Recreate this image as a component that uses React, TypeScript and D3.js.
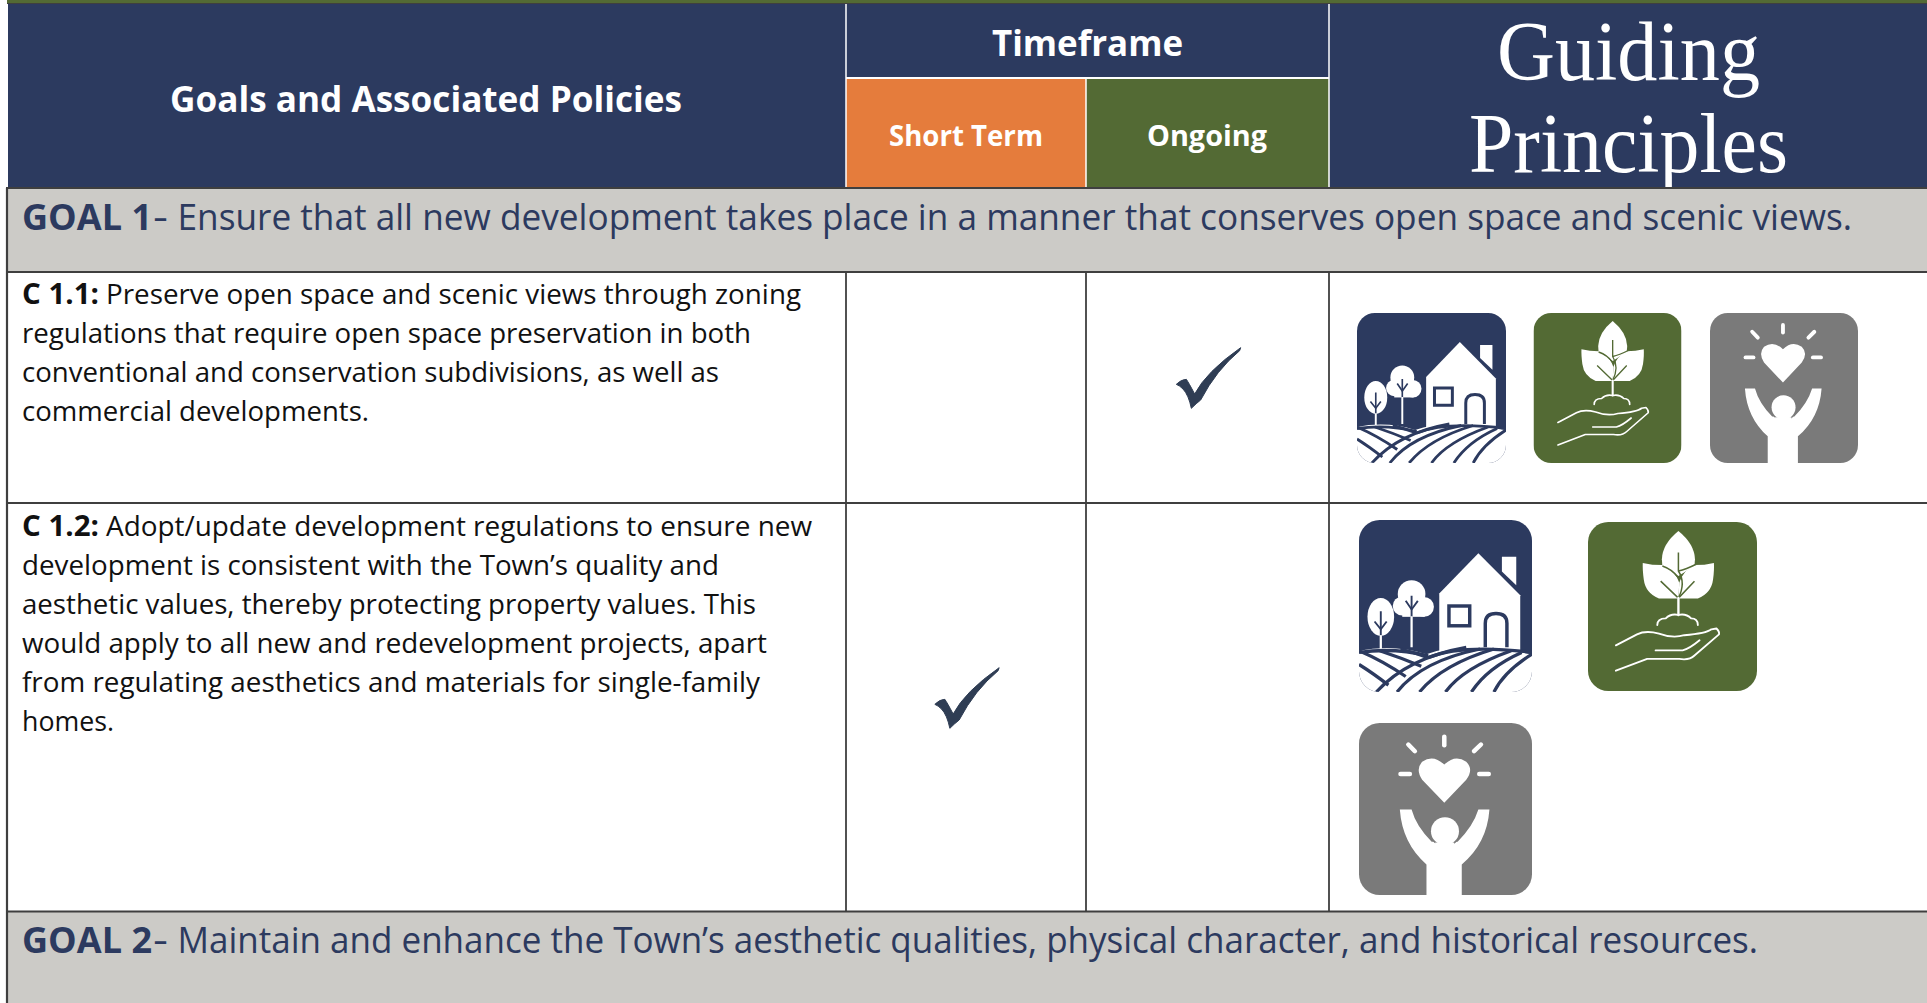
import React from "react";
import * as d3 from "d3";

const NAVY = "#2c3a5f", ORANGE = "#e57c3c", GREEN = "#536a34", BAND = "#cccbc7", RULE = "#3f3f3f", GREY = "#7a7a7a", CHECK = "#2f3d54";
const SANS = "'Open Sans', 'Noto Sans', sans-serif";

const frequency = ["Short Term", "Ongoing"];
const goalOneBold = "GOAL 1";
const goalOneText = "Ensure that all new development takes place in a manner that conserves open space and scenic views.";
const goalTwoBold = "GOAL 2";
const goalTwoText = "Maintain and enhance the Town\u2019s aesthetic qualities, physical character, and historical resources.";
const policyOneId = "C 1.1:";
const policyOneFirst = "Preserve open space and scenic views through zoning";
const policyOneLines = [
  "regulations that require open space preservation in both",
  "conventional and conservation subdivisions, as well as",
  "commercial developments.",
];
const policyOneEnds = [801, 751, 719, 369];
const policyTwoId = "C 1.2:";
const policyTwoFirst = "Adopt/update development regulations to ensure new";
const policyTwoLines = [
  "development is consistent with the Town\u2019s quality and",
  "aesthetic values, thereby protecting property values. This",
  "would apply to all new and redevelopment projects, apart",
  "from regulating aesthetics and materials for single-family",
  "homes.",
];
const policyTwoEnds = [812, 719, 756, 767, 760, 114];
const colEdges = [7, 846, 1086, 1329, 1927];
const rowEdges = [188, 272, 503, 911.5, 1003];

const checkX = d3.scaleOrdinal<string, number>().domain(frequency).range([967, 1208.5]);

function Line(p: { x: number; y: number; end?: number; weight?: number; text: string; size: number; fill: string }) {
  return (
    <text x={p.x} y={p.y} fontFamily={SANS} fontSize={p.size} fill={p.fill} fontWeight={p.weight ?? 400}
      textLength={p.end ? p.end - p.x : undefined} lengthAdjust="spacingAndGlyphs">
      {p.text}
    </text>
  );
}

function Head(p: { x0: number; x1: number; y: number; text: string; size: number; serif?: boolean }) {
  return (
    <text x={p.x0} y={p.y} textLength={p.x1 - p.x0} lengthAdjust="spacingAndGlyphs" fill="#fff"
      fontSize={p.size} fontWeight={p.serif ? 400 : 700} fontFamily={p.serif ? "'Liberation Serif', serif" : SANS}>
      {p.text}
    </text>
  );
}

function Check({ cx, cy }: { cx: number; cy: number }) {
  return (
    <path fill={CHECK} stroke={CHECK} strokeWidth={3} strokeLinejoin="round" transform={`translate(${cx},${cy}) scale(${1 / 3}) translate(-201.5,-174)`}
      d="M105,193 Q120,178 135,178 Q142,188 160,222 Q195,155 298,83 L295,92 Q225,150 178,240 Q165,250 150,265 Q142,225 125,207 Q115,197 105,193 Z" />
  );
}

type Box = { x: number; y: number; w: number; h: number; id: string };

function HouseIcon({ x, y, w, h, id }: Box) {
  return (
    <svg x={x} y={y} width={w} height={h} viewBox="0 0 100 100" preserveAspectRatio="none">
      <defs><clipPath id={id}><rect width={100} height={100} rx={12} /></clipPath></defs>
      <g clipPath={`url(#${id})`}>
        <rect width={100} height={100} fill={NAVY} />
        <path fill="#fff" d="M46.4,42.7 L69,19.4 L93.2,43.7 L93.2,76 L46.4,78 Z" />
        <path fill="#fff" d="M82.6,21.4 L90.9,21.4 L90.9,37.9 L82.6,30 Z" />
        <rect x={52} y={50} width={12} height={11.5} fill="#fff" stroke={NAVY} strokeWidth={2} />
        <path fill="#fff" stroke={NAVY} strokeWidth={2} d="M73,74 L73,60 Q73,54.4 79.2,54.4 Q85.5,54.4 85.5,60 L85.5,74" />
        <ellipse cx={12.6} cy={56.3} rx={7.7} ry={11} fill="#fff" />
        <circle cx={30.4} cy={43} r={8} fill="#fff" />
        <circle cx={25} cy={50} r={5.5} fill="#fff" />
        <circle cx={37.5} cy={50.5} r={5.8} fill="#fff" />
        <rect x={25} y={44} width={13} height={12.3} fill="#fff" />
        <g fill="none" stroke={NAVY} strokeWidth={1.1}>
          <path d="M12.6,53 L12.6,67" /><path d="M9,59 L12.6,63.5 L16,59" />
          <path d="M30.4,44 L30.4,57" /><path d="M27,47 L30.4,52 L34,47" />
        </g>
        <path stroke="#fff" strokeWidth={1.3} d="M12.6,67 L12.6,76 M30.4,56 L30.4,74" />
        <path fill="#fff" d="M0,76 Q20,72 39,78 Q60,70 100,78 L100,100 L0,100 Z" />
        <g fill="none" stroke={NAVY} strokeWidth={1.9}>
          <path d="M0,77 Q20,74 40,79" />
          <path d="M0,84 Q8,89 17,96" /><path d="M0,76 Q14,82 27,91" /><path d="M12,76 Q24,80 36,85" /><path d="M24,75 Q32,77 40,80" />
          <path d="M10,100 Q28,80 62,74" /><path d="M22,100 Q36,82 70,75" /><path d="M35,100 Q48,84 78,75" />
          <path d="M50,100 Q60,86 88,76" /><path d="M65,100 Q74,86 94,77" /><path d="M78,100 Q84,88 100,78" />
          <path d="M40,80 Q60,72 100,77" />
        </g>
      </g>
    </svg>
  );
}

function PlantIcon({ x, y, w, h, id }: Box) {
  return (
    <svg x={x} y={y} width={w} height={h} viewBox="0 0 100 100" preserveAspectRatio="none">
      <defs><clipPath id={id}><rect width={100} height={100} rx={12} /></clipPath></defs>
      <g clipPath={`url(#${id})`}>
        <rect width={100} height={100} fill={GREEN} />
        <path fill="#fff" d="M53.5,5.3 Q44,13 43.7,22 L44,26 L53.5,32 L63,26 L63.3,22 Q63,13 53.5,5.3 Z" />
        <path fill="#fff" d="M32.4,24.2 Q38,25.5 44,25.5 Q52,29 54,36 L53.5,45.3 L42,45.3 Q34,42 33,34 Q32.2,28 32.4,24.2 Z" />
        <path fill="#fff" d="M74.5,24.2 Q69,25.5 63,25.5 Q56,29 54,36 L53.5,45.3 L65,45.3 Q73,42 74,34 Q74.8,28 74.5,24.2 Z" />
        <g fill="none" stroke={GREEN} strokeWidth={0.9}>
          <path d="M53.5,18 L53.5,29 Q58,36 53.5,45" />
          <path d="M43,35 L53.5,45 L63,35" />
          <path d="M53.5,29 Q58,28 64,25" />
          <path d="M44,26 Q50,28 53.5,33" />
        </g>
        <g fill="none" stroke="#fff" strokeWidth={1.1} strokeLinecap="round" strokeLinejoin="round">
          <path d="M53.5,45 L53.5,55" strokeWidth={1.4} />
          <path d="M41,61 Q41,57 46,57 Q49,54 53.5,55 Q58,54 61,57 Q65,57 65,61" />
          <path d="M16.5,73 L29,66.5 Q34,64 42,66 Q50,69 57,67 Q70,66 73,63.5 L76,63 Q78,65 77.5,66.5 L63,79 Q60,82 54,81 L35,81 L16.5,88" />
          <path d="M40,76 L56,76 Q60,75 66,70" />
        </g>
      </g>
    </svg>
  );
}

function HeartIcon({ x, y, w, h, id }: Box) {
  return (
    <svg x={x} y={y} width={w} height={h} viewBox="0 0 100 100" preserveAspectRatio="none">
      <defs><clipPath id={id}><rect width={100} height={100} rx={12} /></clipPath></defs>
      <g clipPath={`url(#${id})`}>
        <rect width={100} height={100} fill={GREY} />
        <g stroke="#fff" strokeWidth={2.6} strokeLinecap="round">
          <path d="M49.3,8 L49.3,13" /><path d="M28.5,12.5 L32.3,16.4" /><path d="M70.5,12.5 L66.5,16.4" />
          <path d="M24,29.6 L29.4,29.6" /><path d="M69.5,29.6 L75,29.6" />
        </g>
        <path fill="#fff" d="M49.3,46.4 L36.5,33 Q32.5,27 36.5,22.5 Q43,18 49.3,24.2 Q55.5,18 62,22.5 Q66.5,27 62,33 Z" />
        <path fill="#fff" d="M23.6,50.3 L30.4,50.3 Q33,60 42,69 L57,69 Q66,60 69,50.3 L75.4,50.3 Q74,70 59.4,82.2 L59.4,100 L39,100 L39,82.2 Q25,70 23.6,50.3 Z" />
        <circle cx={49.7} cy={62.9} r={9} fill={GREY} />
        <circle cx={49.7} cy={62.9} r={8.1} fill="#fff" />
        <rect x={44} y={69.5} width={11} height={3} fill="#fff" />
      </g>
    </svg>
  );
}

export default function App() {
  const [c0, c1, c2, c3, c4] = colEdges;
  const [r0, r1, r2, r3, r4] = rowEdges;
  return (
    <svg width={1927} height={1003} viewBox="0 0 1927 1003" style={{ position: "fixed", left: 0, top: 0, background: "#fff" }}>
      <rect x={c0} y={0} width={c4 - c0} height={3} fill={GREEN} />
      <rect x={c0} y={3} width={c4 - c0} height={1} fill={RULE} />
      <rect x={c0 + 1} y={4} width={c4 - c0} height={r0 - 4} fill={NAVY} />
      <rect x={c1} y={78} width={c3 - c1} height={r0 - 78} fill={ORANGE} />
      <rect x={c2} y={78} width={c3 - c2} height={r0 - 78} fill={GREEN} />
      <g stroke="#fff" strokeWidth={1.5}>
        <line x1={c1} x2={c1} y1={4} y2={r0} />
        <line x1={c3} x2={c3} y1={4} y2={r0} />
        <line x1={c2} x2={c2} y1={78} y2={r0} />
      </g>
      <line x1={c1} x2={c3} y1={78} y2={78} stroke="#fff" strokeWidth={2} />

      <Head x0={170} x1={682} y={112} text="Goals and Associated Policies" size={35} />
      <Head x0={992} x1={1183} y={56} text="Timeframe" size={35} />
      <Head x0={889} x1={1043} y={146} text={frequency[0]} size={28} />
      <Head x0={1147} x1={1267} y={146} text={frequency[1]} size={28} />
      <Head x0={1497} x1={1760} y={80} text="Guiding" size={84} serif />
      <Head x0={1469} x1={1788} y={172} text="Principles" size={84} serif />

      <rect x={c0} y={r0} width={c4 - c0} height={r1 - r0} fill={BAND} />
      <rect x={c0} y={r3} width={c4 - c0} height={r4 - r3} fill={BAND} />

      <g stroke={RULE}>
        {rowEdges.slice(0, 4).map((r) => <line key={r} x1={c0 - 1} x2={c4} y1={r} y2={r} strokeWidth={2.2} />)}
        <line x1={c0} x2={c0} y1={r0} y2={r4} strokeWidth={2.2} />
        {[c1, c2, c3].map((c) => <line key={c} x1={c} x2={c} y1={r1} y2={r3} strokeWidth={1.8} />)}
      </g>

      <Line x={22} y={230} end={152} weight={700} text={goalOneBold} size={36} fill={NAVY} />
      <Line x={153} y={230} end={168} text="-" size={36} fill={NAVY} />
      <Line x={177.5} y={230} end={1852} text={goalOneText} size={36} fill={NAVY} />
      <Line x={22} y={952.5} end={152} weight={700} text={goalTwoBold} size={36} fill={NAVY} />
      <Line x={153} y={952.5} end={168} text="-" size={36} fill={NAVY} />
      <Line x={177.5} y={952.5} end={1758} text={goalTwoText} size={36} fill={NAVY} />

      <Line x={22} y={304} end={99} weight={700} text={policyOneId} size={28} fill="#111" />
      <Line x={106} y={304} end={policyOneEnds[0]} text={policyOneFirst} size={28} fill="#111" />
      {policyOneLines.map((t, i) => (
        <Line key={i} x={22} y={304 + (i + 1) * 39} end={policyOneEnds[i + 1]} text={t} size={28} fill="#111" />
      ))}
      <Line x={22} y={536} end={99} weight={700} text={policyTwoId} size={28} fill="#111" />
      <Line x={106} y={536} end={policyTwoEnds[0]} text={policyTwoFirst} size={28} fill="#111" />
      {policyTwoLines.map((t, i) => (
        <Line key={i} x={22} y={536 + (i + 1) * 39} end={policyTwoEnds[i + 1]} text={t} size={28} fill="#111" />
      ))}

      <Check cx={checkX("Ongoing")} cy={378} />
      <Check cx={checkX("Short Term")} cy={698} />

      <HouseIcon id="a1" x={1357} y={313} w={149} h={150} />
      <PlantIcon id="a2" x={1533.5} y={313} w={148} h={150} />
      <HeartIcon id="a3" x={1710} y={313} w={148} h={150} />
      <HouseIcon id="b1" x={1359} y={520} w={173} h={172} />
      <PlantIcon id="b2" x={1588} y={522} w={169} h={169} />
      <HeartIcon id="b3" x={1359} y={723} w={173} h={172} />
    </svg>
  );
}
